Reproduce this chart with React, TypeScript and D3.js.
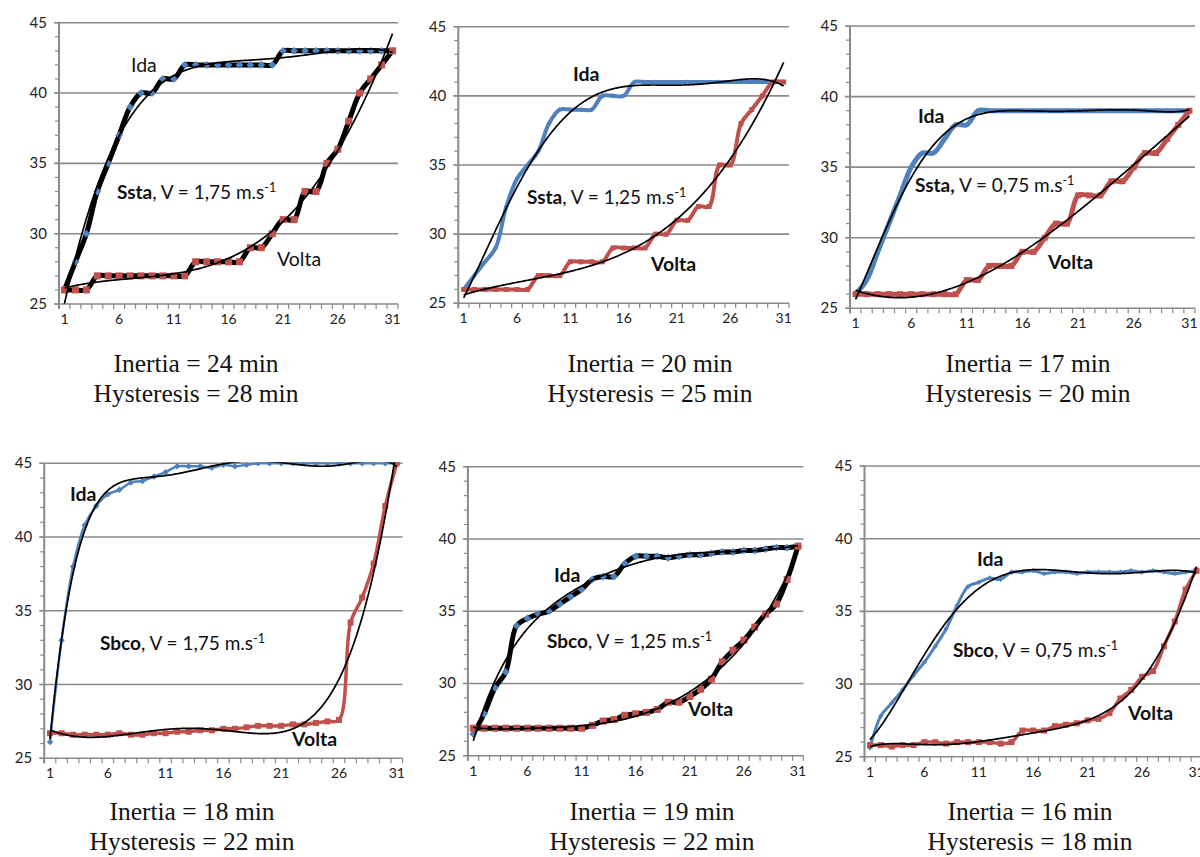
import React from "react";
import * as d3 from "d3";

const STEPS = [1,2,3,4,5,6,7,8,9,10,11,12,13,14,15,16,17,18,19,20,21,22,23,24,25,26,27,28,29,30,31];
const X_TICK_LABELS = [1, 6, 11, 16, 21, 26, 31];
const Y_TICKS = [25, 30, 35, 40, 45];
const Y_MINOR = [25,26,27,28,29,30,31,32,33,34,35,36,37,38,39,40,41,42,43,44,45];

const P1_IDA = [26,28,30,33,35,37,39,40,40,41,41,42,42,42,42,42,42,42,42,42,43,43,43,43,43,43,43,43,43,43,43];
const P1_VOLTA = [26,26,26,27,27,27,27,27,27,27,27,27,28,28,28,28,28,29,29,30,31,31,33,33,35,36,38,40,41,42,43];
const P2_IDA = [26,27,28,29,32,34,35,36,38,39,39,39,39,40,40,40,41,41,41,41,41,41,41,41,41,41,41,41,41,41,41];
const P2_VOLTA = [26,26,26,26,26,26,26,27,27,27,28,28,28,28,29,29,29,29,30,30,31,31,32,32,35,35,38,39,40,41,41];
const P3_IDA = [26,27,29,31,33,35,36,36,37,38,38,39,39,39,39,39,39,39,39,39,39,39,39,39,39,39,39,39,39,39,39];
const P3_VOLTA = [26,26,26,26,26,26,26,26,26,26,27,27,28,28,28,29,29,30,31,31,33,33,33,34,34,35,36,36,37,38,39];
const P4_IDA = [26.1,33,38,40.8,42.1,42.9,43.2,43.7,43.8,44.1,44.4,44.8,44.8,44.8,44.7,44.9,44.8,44.9,45,45,45,45,45,45,45,45,45,45,45,45,45];
const P4_VOLTA = [26.7,26.7,26.6,26.6,26.6,26.6,26.7,26.6,26.6,26.7,26.7,26.8,26.8,26.9,26.9,27.0,27.0,27.1,27.2,27.2,27.2,27.3,27.3,27.4,27.5,27.6,34.2,35.9,38.2,42.1,45];
const P5_IDA = [26.5,27.9,29.7,30.8,34.0,34.5,34.8,35.0,35.5,36.0,36.5,37.2,37.4,37.4,38.3,38.8,38.8,38.8,38.7,38.8,38.9,38.9,39.0,39.1,39.1,39.2,39.2,39.3,39.4,39.4,39.5];
const P5_VOLTA = [26.9,26.9,26.9,26.9,26.9,26.9,26.9,26.9,26.9,26.9,26.9,27.1,27.4,27.5,27.8,27.9,28.0,28.2,28.7,28.7,29.1,29.6,30.3,31.5,32.3,33.0,33.9,34.8,35.5,37.2,39.5];
const P6_IDA = [25.6,27.8,28.7,29.6,30.6,31.5,32.6,33.8,35.4,36.7,37.0,37.3,37.2,37.7,37.7,37.8,37.6,37.7,37.7,37.6,37.7,37.7,37.7,37.7,37.8,37.7,37.8,37.7,37.6,37.7,37.8];
const P6_VOLTA = [25.8,25.8,25.7,25.8,25.8,26.0,26.0,25.9,26.0,26.0,26.0,26.0,25.9,26.0,26.8,26.8,26.8,27.1,27.2,27.3,27.5,27.6,28.0,29.0,29.6,30.5,30.9,32.6,34.3,36.5,37.8];

const SOILS = ["Ssta", "Ssta", "Ssta", "Sbco", "Sbco", "Sbco"];
const SPEEDS = ["1,75", "1,25", "0,75", "1,75", "1,25", "0,75"];
const INERTIA = [24, 20, 17, 18, 19, 16];
const HYSTERESIS = [28, 25, 20, 22, 22, 18];

const BLUE = "#4F81BD";
const RED = "#C0504D";
const GRID = "#8a8a8a";
const SANS = "Lato, 'Open Sans', sans-serif";
const SERIF = "'Liberation Serif', 'Times New Roman', serif";

type Style = { line: string; w: number; mk: number };
type PanelCfg = {
  left: number; right: number; top: number; bottom: number;
  ida: number[]; volta: number[];
  idaStyle: Style; voltaStyle: Style;
  trendOrder: [number, number];
  idaLbl: [number, number]; voltaLbl: [number, number]; annot: [number, number];
  bold: boolean; boldComma: boolean;
  titleX: number; titleY: number;
};

const PANELS: PanelCfg[] = [
  { left: 59, right: 398, top: 22.7, bottom: 304, ida: P1_IDA, volta: P1_VOLTA,
    idaStyle: { line: "#000", w: 5, mk: 6 }, voltaStyle: { line: "#000", w: 5, mk: 7 }, trendOrder: [4, 3],
    idaLbl: [131, 72], voltaLbl: [277, 266], annot: [117, 199], bold: false, boldComma: false, titleX: 196, titleY: 372 },
  { left: 458.3, right: 789, top: 26.7, bottom: 303.3, ida: P2_IDA, volta: P2_VOLTA,
    idaStyle: { line: BLUE, w: 4, mk: 4 }, voltaStyle: { line: RED, w: 4, mk: 5 }, trendOrder: [5, 4],
    idaLbl: [573, 81], voltaLbl: [651, 271], annot: [527, 204], bold: true, boldComma: false, titleX: 650, titleY: 372 },
  { left: 850, right: 1195, top: 26, bottom: 308.3, ida: P3_IDA, volta: P3_VOLTA,
    idaStyle: { line: BLUE, w: 5, mk: 4 }, voltaStyle: { line: RED, w: 5, mk: 6 }, trendOrder: [6, 4],
    idaLbl: [918, 123], voltaLbl: [1048, 269], annot: [915, 192], bold: true, boldComma: true, titleX: 1028, titleY: 372 },
  { left: 44.2, right: 402.6, top: 463.3, bottom: 758.3, ida: P4_IDA, volta: P4_VOLTA,
    idaStyle: { line: BLUE, w: 2.5, mk: 5 }, voltaStyle: { line: RED, w: 3.5, mk: 6 }, trendOrder: [6, 5],
    idaLbl: [70, 501], voltaLbl: [292, 746], annot: [100, 650], bold: true, boldComma: false, titleX: 192, titleY: 820 },
  { left: 467.9, right: 803.4, top: 466.7, bottom: 755.7, ida: P5_IDA, volta: P5_VOLTA,
    idaStyle: { line: "#000", w: 5, mk: 6 }, voltaStyle: { line: "#000", w: 5, mk: 7 }, trendOrder: [6, 6],
    idaLbl: [554, 582], voltaLbl: [688, 716], annot: [547, 648], bold: true, boldComma: false, titleX: 652, titleY: 820 },
  { left: 864.5, right: 1202, top: 466, bottom: 756.7, ida: P6_IDA, volta: P6_VOLTA,
    idaStyle: { line: BLUE, w: 3, mk: 4 }, voltaStyle: { line: RED, w: 3.5, mk: 6 }, trendOrder: [6, 6],
    idaLbl: [977, 566], voltaLbl: [1128, 720], annot: [953, 657], bold: true, boldComma: false, titleX: 1030, titleY: 820 },
];

// Least-squares polynomial trendline, as Excel's polynomial trendline computes it
function polyfit(xs: number[], ys: number[], deg: number) {
  const n = deg + 1;
  const t = (x: number) => (x - 16) / 15;
  const A: number[][] = Array.from({ length: n }, () => new Array(n + 1).fill(0));
  xs.forEach((x, k) => {
    const tx = t(x);
    const pw: number[] = [];
    for (let i = 0; i < 2 * n; i++) pw.push(Math.pow(tx, i));
    for (let i = 0; i < n; i++) {
      for (let j = 0; j < n; j++) A[i][j] += pw[i + j];
      A[i][n] += pw[i] * ys[k];
    }
  });
  for (let c = 0; c < n; c++) {
    let p = c;
    for (let r = c + 1; r < n; r++) if (Math.abs(A[r][c]) > Math.abs(A[p][c])) p = r;
    const tmp = A[c]; A[c] = A[p]; A[p] = tmp;
    for (let r = 0; r < n; r++) {
      if (r === c) continue;
      const f = A[r][c] / A[c][c];
      for (let k = c; k <= n; k++) A[r][k] -= f * A[c][k];
    }
  }
  const coef = A.map((row, i) => row[n] / row[i]);
  return (x: number) => {
    const tx = t(x);
    let s = 0;
    for (let i = n - 1; i >= 0; i--) s = s * tx + coef[i];
    return s;
  };
}

function Panel({ cfg, idx }: { cfg: PanelCfg; idx: number }) {
  const band = d3.scaleBand<number>().domain(STEPS).range([cfg.left, cfg.right]).paddingInner(0).paddingOuter(0);
  const bw = band.bandwidth();
  const x = (v: number) => (band(v) as number) + bw / 2;
  const xc = d3.scaleLinear().domain([1, 31]).range([x(1), x(31)]);
  const y = d3.scaleLinear().domain([25, 45]).range([cfg.bottom, cfg.top]);
  const smooth = d3.line<number>().x((_, i) => x(STEPS[i])).y((d) => y(d)).curve(d3.curveCatmullRom.alpha(0.5));
  const samples = d3.range(1, 31.001, 0.1);
  const clipId = `clip${idx}`;
  const plotRight = Math.min(cfg.right, 1200);

  const fits = [cfg.ida, cfg.volta].map((s, k) => {
    const f = polyfit(STEPS, s, cfg.trendOrder[k]);
    const gen = d3.line<number>().x((v) => xc(v)).y((v) => y(f(v)));
    return gen(samples) as string;
  });

  const diamond = (cx: number, cy: number, s: number) =>
    `M${cx},${cy - s * 0.65}L${cx + s * 0.65},${cy}L${cx},${cy + s * 0.65}L${cx - s * 0.65},${cy}Z`;

  return (
    <g>
      <defs>
        <clipPath id={clipId}>
          <rect x={cfg.left} y={cfg.top - 1} width={plotRight - cfg.left} height={cfg.bottom - cfg.top + 2} />
        </clipPath>
      </defs>
      {Y_TICKS.map((t) => (
        <line key={t} x1={cfg.left - 5} x2={cfg.right} y1={y(t)} y2={y(t)} stroke={GRID} strokeWidth={1.6} />
      ))}
      {Y_MINOR.map((t) => (
        <line key={"m" + t} x1={cfg.left - 4} x2={cfg.left} y1={y(t)} y2={y(t)} stroke={GRID} strokeWidth={1.2} />
      ))}
      <line x1={cfg.left} x2={cfg.left} y1={cfg.top} y2={cfg.bottom + 5} stroke={GRID} strokeWidth={2} />
      {[...STEPS, 32].map((s) => {
        const tx = cfg.left + (s - 1) * bw;
        return <line key={"x" + s} x1={tx} x2={tx} y1={cfg.bottom} y2={cfg.bottom + 5} stroke={GRID} strokeWidth={1.2} />;
      })}
      {Y_TICKS.map((t) => (
        <text key={"yl" + t} x={cfg.left - 12} y={y(t) + 5} textAnchor="end" fontFamily={SANS} fontSize={15} fill="#222">{t}</text>
      ))}
      {X_TICK_LABELS.map((t) => (
        <text key={"xl" + t} x={x(t)} y={cfg.bottom + 20} textAnchor="middle" fontFamily={SANS} fontSize={14} fill="#222">{t}</text>
      ))}
      <g clipPath={`url(#${clipId})`}>
        <path d={smooth(cfg.ida) as string} fill="none" stroke={cfg.idaStyle.line} strokeWidth={cfg.idaStyle.w} strokeLinejoin="round" />
        <path d={smooth(cfg.volta) as string} fill="none" stroke={cfg.voltaStyle.line} strokeWidth={cfg.voltaStyle.w} strokeLinejoin="round" />
        {cfg.ida.map((v, i) => (
          <path key={"di" + i} d={diamond(x(STEPS[i]), y(v), cfg.idaStyle.mk)} fill={BLUE} />
        ))}
        {cfg.volta.map((v, i) => (
          <rect key={"sq" + i} x={x(STEPS[i]) - cfg.voltaStyle.mk / 2} y={y(v) - cfg.voltaStyle.mk / 2}
            width={cfg.voltaStyle.mk} height={cfg.voltaStyle.mk} fill={RED} />
        ))}
        {fits.map((d, i) => (
          <path key={"f" + i} d={d} fill="none" stroke="#000" strokeWidth={1.7} />
        ))}
      </g>
      <text x={cfg.idaLbl[0]} y={cfg.idaLbl[1]} fontFamily={SANS} fontSize={19.5} fontWeight={cfg.bold ? 700 : 400} fill="#111">Ida</text>
      <text x={cfg.voltaLbl[0]} y={cfg.voltaLbl[1]} fontFamily={SANS} fontSize={19.5} fontWeight={cfg.bold ? 700 : 400} fill="#111">Volta</text>
      <text x={cfg.annot[0]} y={cfg.annot[1]} fontFamily={SANS} fontSize={19} fill="#111">
        <tspan fontWeight={700}>{SOILS[idx] + (cfg.boldComma ? "," : "")}</tspan>
        {(cfg.boldComma ? "" : ",") + " V = " + SPEEDS[idx] + " m.s"}
        <tspan dy={-7} fontSize={12.5}>-1</tspan>
      </text>
      <text x={cfg.titleX} y={cfg.titleY} textAnchor="middle" fontFamily={SERIF} fontSize={25.5} fill="#111">
        {`Inertia = ${INERTIA[idx]} min`}
      </text>
      <text x={cfg.titleX} y={cfg.titleY + 30} textAnchor="middle" fontFamily={SERIF} fontSize={25.5} fill="#111">
        {`Hysteresis = ${HYSTERESIS[idx]} min`}
      </text>
    </g>
  );
}

export default function App() {
  return (
    <svg width={1200} height={857} style={{ position: "absolute", left: 0, top: 0, background: "#fff" }}>
      <rect x={0} y={0} width={1200} height={857} fill="#fff" />
      {PANELS.map((p, i) => (
        <Panel key={i} cfg={p} idx={i} />
      ))}
    </svg>
  );
}
